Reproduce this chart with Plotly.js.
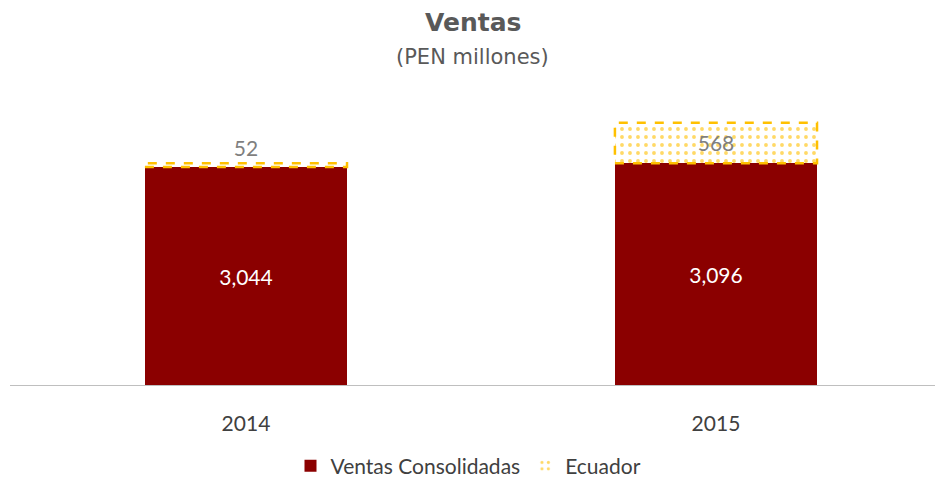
<!DOCTYPE html>
<html><head><meta charset="utf-8">
<script src="https://cdn.plot.ly/plotly-3.0.1.min.js"></script>
<style>html,body{margin:0;padding:0;background:#fff}#chart{width:937px;height:479px}</style>
</head><body><div id="chart"></div>
<script>
const categories = ['2014', '2015'];
const consolidadas = [3044, 3096];
const ecuador = [52, 568];
const seriesNames = ['Ventas Consolidadas', 'Ecuador'];

const fmt = v => v.toLocaleString('en-US');
const barWidth = 0.43;
const font = 'Lato, "Open Sans", sans-serif';

const traces = [
  {
    type: 'bar', name: seriesNames[0], x: [0, 1], y: consolidadas,
    width: barWidth, marker: {color: '#8B0000', line: {width: 0}},
    text: consolidadas.map(fmt), textposition: 'inside', insidetextanchor: 'middle',
    textfont: {color: '#ffffff', size: 21, family: font}, hoverinfo: 'none'
  },
  {
    type: 'bar', name: seriesNames[1], x: [0, 1], y: ecuador,
    width: barWidth,
    marker: {color: '#ffffff', line: {width: 0},
      pattern: {shape: '.', fgcolor: '#FFD966', bgcolor: '#ffffff', size: 8, solidity: 0.18}},
    text: ecuador.map(fmt), textposition: ecuador.map(v => v < 200 ? 'outside' : 'inside'),
    insidetextanchor: 'middle', constraintext: 'none', cliponaxis: false,
    textfont: {color: '#7f7f7f', size: 21, family: font}, hoverinfo: 'none'
  }
];

const shapes = categories.map((c, i) => ({
  type: 'rect', xref: 'x', yref: 'y',
  x0: i - barWidth / 2, x1: i + barWidth / 2,
  y0: consolidadas[i], y1: consolidadas[i] + ecuador[i],
  line: {color: '#FFC000', width: 2.5, dash: 'dash'}, fillcolor: 'rgba(0,0,0,0)'
}));

const layout = {
  width: 937, height: 479,
  margin: {l: 10, r: 2, t: 85, b: 94, autoexpand: false},
  paper_bgcolor: '#ffffff', plot_bgcolor: '#ffffff',
  barmode: 'stack', showlegend: true,
  font: {family: font, color: '#404040'},
  xaxis: {
    tickmode: 'array', tickvals: [0, 1], ticktext: categories,
    range: [-0.502, 1.466], showline: true, linecolor: '#bfbfbf', linewidth: 1,
    showgrid: false, zeroline: false, ticks: 'outside', ticklen: 20, tickcolor: 'rgba(0,0,0,0)',
    tickfont: {size: 21, color: '#404040', family: font}, automargin: false,
    fixedrange: true
  },
  yaxis: {range: [0, 4190], visible: false, fixedrange: true},
  legend: {orientation: 'h', x: 0.5, xanchor: 'center', xref: 'container',
    y: 1 - 466 / 479, yanchor: 'middle', yref: 'container',
    font: {size: 21, color: '#404040', family: font}, traceorder: 'normal'},
  shapes: shapes,
  annotations: [
    {text: '<b>Ventas</b>', xref: 'paper', yref: 'paper', x: 0.5, y: 1.21, xanchor: 'center', yanchor: 'middle',
      showarrow: false, font: {size: 25, color: '#595959', family: 'DejaVu Sans, sans-serif'}},
    {text: '(PEN millones)', xref: 'paper', yref: 'paper', x: 0.5, y: 1.093, xanchor: 'center', yanchor: 'middle',
      showarrow: false, font: {size: 21, color: '#595959', family: 'DejaVu Sans, sans-serif'}}
  ]
};

Plotly.newPlot('chart', traces, layout, {displayModeBar: false, staticPlot: true});
</script></body></html>
